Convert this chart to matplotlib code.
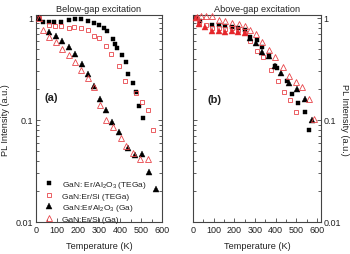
import matplotlib
matplotlib.use("Agg")
import matplotlib.pyplot as plt
from matplotlib.ticker import FixedLocator, FixedFormatter, MultipleLocator, LogLocator, NullFormatter
from matplotlib.lines import Line2D

plt.rcParams['font.family'] = ['Liberation Sans', 'DejaVu Sans']
plt.rcParams['mathtext.fontset'] = 'custom'
plt.rcParams['mathtext.rm'] = 'Liberation Sans'
plt.rcParams['mathtext.it'] = 'Liberation Sans:italic'

# ---------------- data: (a) below-gap excitation ----------------
a_sq_T = [13, 32, 60, 87, 119, 156, 187, 214, 246, 278, 302, 325, 337, 365, 376, 386, 410, 427, 440, 460, 476, 489, 508]
a_sq_v = [1.0, 0.91, 0.91, 0.92, 0.92, 0.96, 0.985, 0.985, 0.93, 0.90, 0.85, 0.79, 0.75, 0.62, 0.55, 0.51, 0.43, 0.37, 0.28, 0.23, 0.19, 0.137, 0.105]

a_osq_T = [13, 63, 92, 119, 156, 183, 214, 246, 278, 302, 333, 357, 397, 425, 476, 505, 532, 556]
a_osq_v = [1.0, 0.85, 0.84, 0.83, 0.80, 0.82, 0.80, 0.77, 0.67, 0.64, 0.53, 0.44, 0.34, 0.24, 0.185, 0.15, 0.124, 0.080]

a_tri_T = [13, 63, 95, 124, 155, 187, 218, 246, 275, 304, 333, 363, 397, 440, 471, 503, 540, 572]
a_tri_v = [1.0, 0.73, 0.66, 0.59, 0.52, 0.44, 0.355, 0.28, 0.215, 0.16, 0.124, 0.096, 0.077, 0.053, 0.045, 0.046, 0.031, 0.021]

a_otri_T = [13, 32, 63, 95, 124, 155, 186, 216, 246, 275, 303, 333, 368, 403, 429, 460, 495, 532]
a_otri_v = [1.0, 0.77, 0.65, 0.58, 0.50, 0.43, 0.37, 0.31, 0.26, 0.21, 0.14, 0.10, 0.085, 0.067, 0.055, 0.047, 0.041, 0.041]

# ---------------- data: (b) above-gap excitation ----------------
b_sq_T = [13, 35, 92, 125, 155, 189, 218, 250, 278, 310, 334, 370, 396, 407, 456, 480, 509, 544, 564]
b_sq_v = [1.0, 0.93, 0.86, 0.86, 0.83, 0.82, 0.80, 0.76, 0.65, 0.61, 0.52, 0.43, 0.34, 0.32, 0.24, 0.18, 0.147, 0.12, 0.079]

b_osq_T = [13, 31, 63, 92, 124, 153, 189, 218, 250, 278, 310, 338, 380, 412, 439, 472, 499]
b_osq_v = [1.0, 0.90, 0.86, 0.80, 0.80, 0.78, 0.79, 0.77, 0.72, 0.60, 0.48, 0.41, 0.31, 0.24, 0.19, 0.156, 0.12]

b_tri_T = [13, 27, 58, 92, 124, 157, 189, 219, 250, 278, 305, 334, 367, 396, 428, 464, 504, 544, 574]
b_tri_v = [1.0, 0.88, 0.82, 0.75, 0.74, 0.73, 0.74, 0.73, 0.72, 0.64, 0.57, 0.46, 0.42, 0.34, 0.29, 0.23, 0.20, 0.16, 0.10]
b_tri_n_red = 9   # the first points of this series are drawn in red in the original

b_otri_T = [20, 40, 65, 92, 128, 157, 189, 221, 250, 278, 307, 333, 370, 396, 435, 467, 499, 528, 561, 585]
b_otri_v = [1.03, 1.04, 1.04, 1.04, 0.95, 0.93, 0.89, 0.88, 0.83, 0.76, 0.70, 0.58, 0.49, 0.41, 0.33, 0.27, 0.236, 0.21, 0.16, 0.103]

labels = ['GaN: Er/Al$_2$O$_3$ (TEGa)', 'GaN:Er/Si (TEGa)', 'GaN:Er/Al$_2$O$_3$ (Ga)', 'GaN:Er/Si (Ga)']
titles = ['Below-gap excitation', 'Above-gap excitation']
panel_tags = ['(a)', '(b)']
xticks = [0, 100, 200, 300, 400, 500, 600]
yticks = [0.01, 0.1, 1]
yticklabels = ['0.01', '0.1', '1']

RED = '#e8454a'
RED_FILL = '#e5262b'
TXT = '#222222'
SP = '#444444'

W, H = 350, 255
fig = plt.figure(figsize=(3.5, 2.55), dpi=100)
ax1 = fig.add_axes([36 / W, 32 / H, 126 / W, 207 / H])
ax2 = fig.add_axes([193 / W, 32 / H, 128 / W, 207 / H])

ms_sq = 3.3
ms_tri = 3.8
mew = 0.6

def draw(ax, sq, osq, tri, otri, tri_colors=None):
    ax.plot(sq[0], sq[1], 's', ms=ms_sq, mfc='black', mec='black', mew=0.3, ls='none', clip_on=False, zorder=3)
    ax.plot(osq[0], osq[1], 's', ms=ms_sq, mfc='none', mec=RED, mew=mew, ls='none', clip_on=False, zorder=3)
    if tri_colors is None:
        ax.plot(tri[0], tri[1], '^', ms=ms_tri, mfc='black', mec='black', mew=0.3, ls='none', clip_on=False, zorder=3)
    else:
        for t, v, c in zip(tri[0], tri[1], tri_colors):
            ax.plot([t], [v], '^', ms=ms_tri, mfc=c, mec=c, mew=0.3, ls='none', clip_on=False, zorder=3)
    ax.plot(otri[0], otri[1], '^', ms=ms_tri, mfc='none', mec=RED, mew=mew, ls='none', clip_on=False, zorder=3)

draw(ax1, (a_sq_T, a_sq_v), (a_osq_T, a_osq_v), (a_tri_T, a_tri_v), (a_otri_T, a_otri_v))
b_colors = [RED_FILL] * b_tri_n_red + ['black'] * (len(b_tri_T) - b_tri_n_red)
draw(ax2, (b_sq_T, b_sq_v), (b_osq_T, b_osq_v), (b_tri_T, b_tri_v), (b_otri_T, b_otri_v), b_colors)

for i, ax in enumerate((ax1, ax2)):
    ax.set_yscale('log')
    ax.set_ylim(0.01, 1.07)
    ax.set_xlim(0, 600 if i == 0 else 620)
    ax.xaxis.set_major_locator(FixedLocator(xticks))
    ax.xaxis.set_minor_locator(MultipleLocator(50))
    ax.yaxis.set_major_locator(FixedLocator(yticks))
    ax.yaxis.set_major_formatter(FixedFormatter(yticklabels))
    ax.yaxis.set_minor_locator(LogLocator(base=10, subs=range(2, 10)))
    ax.yaxis.set_minor_formatter(NullFormatter())
    ax.tick_params(which='both', direction='in', left=True, right=True, top=False, bottom=True,
                   colors=SP, labelcolor=TXT, labelsize=6.5, width=0.6, pad=2)
    ax.tick_params(which='major', length=3)
    ax.tick_params(which='minor', length=2)
    for s in ax.spines.values():
        s.set_color(SP)
        s.set_linewidth(0.8)
    ax.set_title(titles[i], fontsize=6.6, color=TXT, pad=3)

ax2.tick_params(axis='y', which='both', labelleft=False, labelright=True)

ax1.text(0.07, 0.605, panel_tags[0], transform=ax1.transAxes, fontsize=8, fontweight='bold', color=TXT, va='center', ha='left')
ax2.text(0.115, 0.595, panel_tags[1], transform=ax2.transAxes, fontsize=8, fontweight='bold', color=TXT, va='center', ha='left')

fig.text(6 / W, 1 - 120 / H, 'PL Intensity (a.u.)', rotation=90, fontsize=6.6, color=TXT, ha='center', va='center')
fig.text(344 / W, 1 - 120 / H, 'PL Intensity (a.u.)', rotation=270, fontsize=6.6, color=TXT, ha='center', va='center')
fig.text(99 / W, 1 - 247 / H, 'Temperature (K)', fontsize=6.6, color=TXT, ha='center', va='center')
fig.text(257 / W, 1 - 247 / H, 'Temperature (K)', fontsize=6.6, color=TXT, ha='center', va='center')

handles = [
    Line2D([], [], marker='s', ls='none', ms=ms_sq, mfc='black', mec='black', mew=0.3),
    Line2D([], [], marker='s', ls='none', ms=ms_sq, mfc='none', mec=RED, mew=mew),
    Line2D([], [], marker='^', ls='none', ms=ms_tri, mfc='black', mec='black', mew=0.3),
    Line2D([], [], marker='^', ls='none', ms=ms_tri, mfc='none', mec=RED, mew=mew),
]
leg = ax1.legend(handles, labels, loc='lower left', bbox_to_anchor=(0.075, -0.005), frameon=False,
                 fontsize=6, borderpad=0, borderaxespad=0, handlelength=0.8, handletextpad=1.2,
                 labelspacing=0.25, numpoints=1)
for t in leg.get_texts():
    t.set_color(TXT)

fig.savefig('out.png', dpi=100)
